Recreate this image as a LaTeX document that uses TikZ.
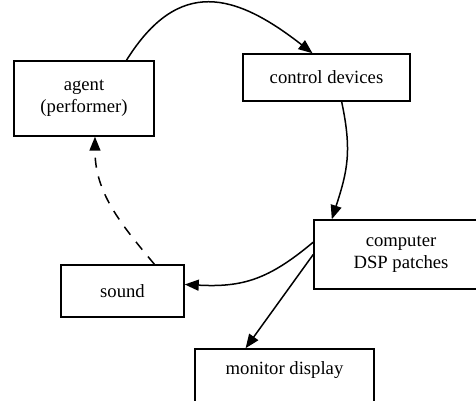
\documentclass[tikz,border=0pt]{standalone}
\usepackage{fontspec}
\setmainfont{Liberation Serif}
\usetikzlibrary{arrows.meta}

\tikzset{
  blok/.style={draw, line width=0.9pt, inner sep=0pt, align=center,
    font=\fontsize{11.2}{13.2}\selectfont},
  pijl/.style={line width=0.9pt, -{Triangle[length=8.4pt,width=6.6pt]}}
}

\begin{document}
\begin{tikzpicture}[x=0.6pt, y=0.6pt]
\clip (0,0) rectangle (476,401);
\node[blok, minimum width=84pt, minimum height=45pt] (agent) at (84,302.5) {agent\\(performer)};
\node[blok, minimum width=100.2pt, minimum height=28.2pt] (ctrl) at (326.5,323.5) {control devices};
\node[blok, minimum width=104.4pt, minimum height=41.4pt] (comp) at (401,146.5) {computer\\DSP patches};
\node[blok, minimum width=73.8pt, minimum height=31.2pt] (sound) at (122.5,110) {sound};
\node[blok, minimum width=107.4pt, text height=15.6pt, text depth=37.2pt] (mon) at (284.5,8) {monitor display};
% loop
\draw[pijl] (agent.42) to[out=58, in=142, looseness=1.35] (ctrl.120);
\draw[pijl] (ctrl.-58) to[out=-78, in=72, looseness=1.1] (comp.153);
\draw[pijl] (comp.172) to[out=-140, in=-3, looseness=1.1] (sound.6);
\draw[pijl, dash pattern=on 6pt off 5.4pt] (sound.40) to[out=130, in=-90] (agent.-74);
\draw[pijl] (comp.west) -- (mon.131);
\end{tikzpicture}
\end{document}
